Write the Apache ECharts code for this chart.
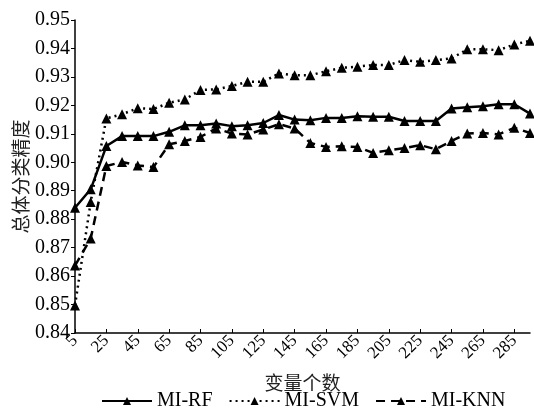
<!DOCTYPE html>
<html>
<head>
<meta charset="utf-8">
<script src="https://cdn.jsdelivr.net/npm/echarts@6/dist/echarts.min.js"></script>
<style>
  html, body { margin: 0; padding: 0; background: #fff; }
  #chart { width: 534px; height: 414px; }
</style>
</head>
<body>
<div id="chart"></div>
<script>
// 变量个数 5..295 step 10
var varCounts = ['5', '15', '25', '35', '45', '55', '65', '75', '85', '95',
  '105', '115', '125', '135', '145', '155', '165', '175', '185', '195',
  '205', '215', '225', '235', '245', '255', '265', '275', '285', '295'];

var rfAcc = [0.884, 0.8905, 0.9057, 0.9092, 0.9092, 0.9092, 0.9107, 0.913, 0.913, 0.9136,
  0.9127, 0.913, 0.9138, 0.9166, 0.915, 0.9148, 0.9156, 0.9156, 0.9162, 0.916,
  0.916, 0.9145, 0.9145, 0.9145, 0.9189, 0.9193, 0.9197, 0.9204, 0.9204, 0.9171];

var svmAcc = [0.8497, 0.886, 0.9154, 0.9169, 0.919, 0.9187, 0.9209, 0.9221, 0.9254, 0.9256,
  0.9268, 0.9283, 0.9283, 0.9312, 0.9306, 0.9306, 0.932, 0.9332, 0.9336, 0.9342,
  0.9342, 0.9359, 0.9353, 0.9359, 0.9365, 0.9397, 0.9397, 0.9394, 0.9414, 0.9427];

var knnAcc = [0.8637, 0.8732, 0.8987, 0.9001, 0.8989, 0.8983, 0.9063, 0.9075, 0.9089, 0.9119,
  0.9101, 0.9098, 0.9115, 0.9134, 0.9119, 0.9068, 0.9054, 0.9056, 0.9054, 0.9033,
  0.9042, 0.905, 0.906, 0.9046, 0.9075, 0.9101, 0.9103, 0.9098, 0.9121, 0.9103];

var serif = '"Liberation Serif", "DejaVu Serif", serif';
var cjk = '"Noto Sans CJK SC", sans-serif';

function mkSeries(name, data, lineType) {
  return {
    name: name,
    type: 'line',
    data: data,
    symbol: 'triangle',
    symbolSize: 10,
    showAllSymbol: true,
    itemStyle: { color: '#000' },
    lineStyle: { color: '#000', width: 2.5, type: lineType },
    emphasis: { disabled: true },
    animation: false
  };
}

var chart = echarts.init(document.getElementById('chart'));
chart.setOption({
  backgroundColor: '#fff',
  grid: { left: 75, right: 4, top: 20, bottom: 81, containLabel: false, outerBoundsMode: 'none' },
  legend: {
    bottom: -2,
    left: 96,
    itemWidth: 50,
    itemHeight: 10,
    itemGap: 16,
    textStyle: { fontFamily: serif, fontSize: 20, color: '#000' },
    data: ['MI-RF', 'MI-SVM', 'MI-KNN']
  },
  xAxis: {
    type: 'category',
    data: varCounts,
    boundaryGap: false,
    name: '变量个数',
    nameLocation: 'middle',
    nameGap: 40,
    nameTextStyle: { fontFamily: cjk, fontSize: 19, color: '#222' },
    axisLine: { lineStyle: { color: '#000', width: 1.5 } },
    axisTick: { inside: true, length: 4, interval: 1, lineStyle: { color: '#000' } },
    axisLabel: {
      interval: 1,
      rotate: 45,
      fontFamily: serif,
      fontSize: 17,
      color: '#000',
      margin: 5
    },
    splitLine: { show: false }
  },
  yAxis: {
    type: 'value',
    min: 0.84,
    max: 0.95,
    interval: 0.01,
    name: '总体分类精度',
    nameLocation: 'middle',
    nameGap: 45,
    nameMoveOverlap: false,
    nameTextStyle: { fontFamily: cjk, fontSize: 19, color: '#222' },
    axisLine: { show: true, lineStyle: { color: '#000', width: 1.5 } },
    axisTick: { show: true, length: 4, lineStyle: { color: '#000' } },
    axisLabel: {
      fontFamily: serif,
      fontSize: 20,
      color: '#000',
      margin: 5,
      formatter: function (v) { return v.toFixed(2); }
    },
    splitLine: { show: false }
  },
  series: [
    mkSeries('MI-RF', rfAcc, 'solid'),
    mkSeries('MI-SVM', svmAcc, [2, 4]),
    mkSeries('MI-KNN', knnAcc, [9, 6])
  ]
});
</script>
</body>
</html>
